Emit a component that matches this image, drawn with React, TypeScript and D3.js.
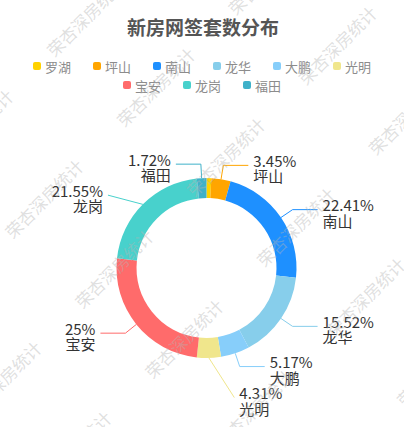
import React from "react";
import * as d3 from "d3";

const categories = ["罗湖", "坪山", "南山", "龙华", "大鹏", "光明", "宝安", "龙岗", "福田"];
const counts = [1, 4, 26, 18, 6, 5, 29, 25, 2];
const colors = ["#FFD200", "#FFA500", "#1E90FF", "#87CEEB", "#87CEFA", "#F0E68C", "#FF6B6B", "#48D1CC", "#3FB1C9"];
const title = "新房网签套数分布";
const watermark = "荣杏深房统计";

const W = 404;
const H = 427;
const FONT = "'Noto Sans CJK SC', 'Noto Sans', sans-serif";

export default function App() {
  const cx = 206.5;
  const cy = 268;
  const rOuter = 90;
  const rInner = 70;
  const len1 = 14;
  const len2 = 25;

  const total = d3.sum(counts);
  const pie = d3.pie<number>().sort(null).value((d) => d)(counts);
  const arc = d3.arc<d3.PieArcDatum<number>>().innerRadius(rInner).outerRadius(rOuter);

  type Lbl = { i: number; right: boolean; p1: [number, number]; p2: [number, number]; x3: number; y: number; moved: boolean; pct: string };
  const labels: Lbl[] = [];
  pie.forEach((p, i) => {
    const frac = p.value / total;
    if (frac < 0.01) return;
    const a = (p.startAngle + p.endAngle) / 2;
    const s = Math.sin(a), c = Math.cos(a);
    const p1: [number, number] = [cx + rOuter * s, cy - rOuter * c];
    const p2: [number, number] = [cx + (rOuter + len1) * s, cy - (rOuter + len1) * c];
    const right = s >= 0;
    const x3 = right ? p2[0] + len2 : p2[0] - len2;
    const pct = String(Math.round(frac * 10000) / 100) + "%";
    labels.push({ i, right, p1, p2, x3, y: p2[1], moved: false, pct });
  });
  const minGap = 31;
  [true, false].forEach((side) => {
    const group = labels.filter((l) => l.right === side).sort((a, b) => a.y - b.y);
    for (let k = 1; k < group.length; k++) {
      if (group[k].y < group[k - 1].y + minGap) {
        group[k].y = group[k - 1].y + minGap;
        group[k].moved = true;
      }
    }
  });

  const iconSize = 8;
  const iconGap = 4;
  const legendFont = 13;
  const itemGap = 22;
  const itemWidths = categories.map((c) => iconSize + iconGap + c.length * legendFont);
  const rows: number[][] = [];
  let cur: number[] = [];
  let curW = 0;
  const maxW = W - 40;
  categories.forEach((_, i) => {
    const w = itemWidths[i];
    const add = cur.length ? itemGap + w : w;
    if (curW + add > maxW && cur.length) {
      rows.push(cur);
      cur = [i];
      curW = w;
    } else {
      cur.push(i);
      curW += add;
    }
  });
  if (cur.length) rows.push(cur);
  const legendY0 = 66;
  const legendRowH = 19;

  const wmStepU = 158;
  const wmStepN = 99;
  const wmItems: [number, number][] = [];
  for (let i = -4; i <= 4; i++) for (let j = -4; j <= 6; j++) wmItems.push([i * wmStepU, j * wmStepN]);

  return (
    <svg width={W} height={H} style={{ position: "absolute", left: 0, top: 0, background: "#fff" }} fontFamily={FONT}>
      <rect x={0} y={0} width={W} height={H} fill="#fff" />
      <text x={203} y={26} textAnchor="middle" dominantBaseline="central" fontSize={19} fontWeight="bold" fill="#555">
        {title}
      </text>
      {rows.map((row, r) => {
        const rowW = row.reduce((acc, i, k) => acc + itemWidths[i] + (k ? itemGap : 0), 0);
        let x = (W - rowW) / 2;
        const y = legendY0 + r * legendRowH;
        return row.map((i) => {
          const x0 = x;
          x += itemWidths[i] + itemGap;
          return (
            <g key={categories[i]}>
              <rect x={x0} y={y - iconSize / 2} width={iconSize} height={iconSize} rx={2} fill={colors[i]} />
              <text x={x0 + iconSize + iconGap} y={y} dominantBaseline="central" fontSize={legendFont} fill="#8c8c8c">
                {categories[i]}
              </text>
            </g>
          );
        });
      })}
      <g transform={`translate(${cx},${cy})`}>
        {pie.map((p, i) => (
          <path key={categories[i]} d={arc(p) || ""} fill={colors[i]} />
        ))}
      </g>
      {labels.map((l) => {
        const pts = l.moved ? [l.p1, [l.x3, l.y]] : [l.p1, l.p2, [l.x3, l.y]];
        const tx = l.right ? l.x3 + 5 : l.x3 - 5;
        const anchor = l.right ? "start" : "end";
        return (
          <g key={"lbl" + l.i}>
            <polyline points={pts.map((p) => p.join(",")).join(" ")} fill="none" stroke={colors[l.i]} strokeWidth={1} />
            <text x={tx} y={l.y - 5} textAnchor={anchor} dominantBaseline="central" fontSize={15} fill="#333">
              {l.pct}
            </text>
            <text x={tx} y={l.y + 10.5} textAnchor={anchor} dominantBaseline="central" fontSize={15} fill="#333">
              {categories[l.i]}
            </text>
          </g>
        );
      })}
      <g transform="translate(55,47) rotate(-45)" pointerEvents="none">
        {wmItems.map(([x, y], k) => (
          <text key={k} x={x - 8} y={y} dominantBaseline="central" fontSize={17} fill="#b4b4b4" fillOpacity={0.42}>
            {watermark}
          </text>
        ))}
      </g>
    </svg>
  );
}
